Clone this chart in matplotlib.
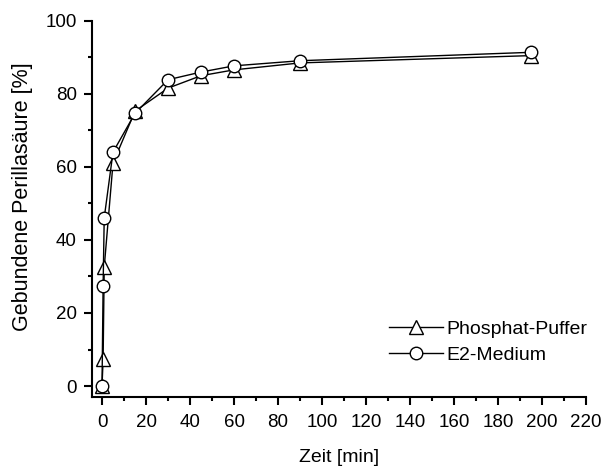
import matplotlib
matplotlib.use("Agg")
import matplotlib.pyplot as plt
from matplotlib.ticker import MultipleLocator

plt.rcParams['font.family'] = ['Liberation Sans', 'DejaVu Sans']

time_min = [0, 0.5, 1, 5, 15, 30, 45, 60, 90, 195]
phosphat = [0, 7.3, 32.5, 61.0, 75.2, 81.5, 84.9, 86.5, 88.4, 90.4]
e2_medium = [0, 27.4, 46.0, 64.0, 74.6, 83.8, 85.9, 87.6, 89.0, 91.3]

x_label = "Zeit [min]"
y_label = "Gebundene Perillasäure [%]"
series_labels = ["Phosphat-Puffer", "E2-Medium"]

fig = plt.figure(figsize=(6.10, 4.66), dpi=100)
ax = fig.add_axes([0.151, 0.148, 0.810, 0.808])

ax.plot(time_min, phosphat, color='black', lw=1.0, marker='^', markersize=10,
        markerfacecolor='white', markeredgecolor='black', markeredgewidth=1.0,
        label=series_labels[0])
ax.plot(time_min, e2_medium, color='black', lw=1.0, marker='o', markersize=9,
        markerfacecolor='white', markeredgecolor='black', markeredgewidth=1.0,
        label=series_labels[1])

ax.set_xlim(-4.5, 220)
ax.set_ylim(-3, 100)
ax.xaxis.set_major_locator(MultipleLocator(20))
ax.xaxis.set_minor_locator(MultipleLocator(10))
ax.yaxis.set_major_locator(MultipleLocator(20))
ax.yaxis.set_minor_locator(MultipleLocator(10))

for s in ['top', 'right']:
    ax.spines[s].set_visible(False)
for s in ['left', 'bottom']:
    ax.spines[s].set_linewidth(1.5)

ax.tick_params(which='major', direction='out', length=6, width=1.5, labelsize=13.5)
ax.tick_params(which='minor', direction='out', length=3, width=1.5)
ax.tick_params(axis='x', which='major', pad=6)
ax.tick_params(axis='y', which='major', pad=5)

ax.set_xlabel(x_label, fontsize=14, labelpad=13)
ax.set_ylabel(y_label, fontsize=15.5)
ax.yaxis.set_label_coords(-0.119, 0.531)

leg = ax.legend(loc='lower left', bbox_to_anchor=(0.60, 0.087), frameon=False,
                fontsize=14, handlelength=2.8, handletextpad=0.15, labelspacing=0.45,
                borderaxespad=0.0, borderpad=0.0)

fig.savefig("out.png", dpi=100)
